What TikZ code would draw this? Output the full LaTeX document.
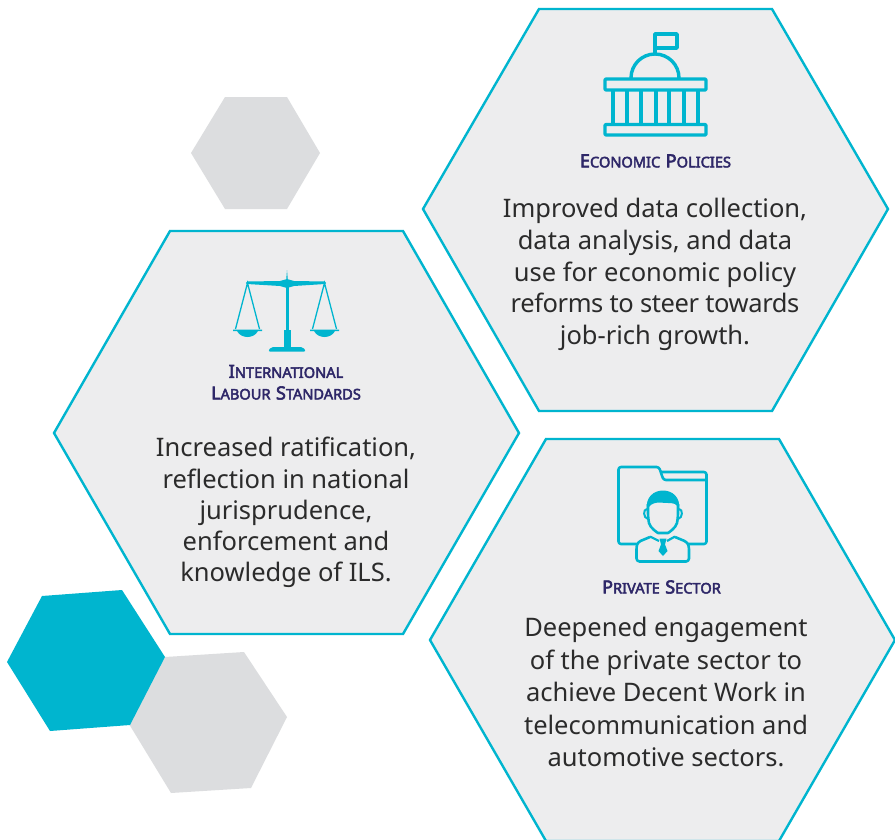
\documentclass[tikz,border=0pt]{standalone}
\usepackage{fontspec}
\setmainfont{Noto Sans}
\newfontfamily\headfont[FakeBold=3.2]{Noto Sans}
\definecolor{teal}{HTML}{00B5CF}
\definecolor{panel}{HTML}{EDEDEE}
\definecolor{deco}{HTML}{DCDDDF}
\definecolor{navy}{HTML}{2E2768}
\definecolor{ink}{HTML}{2B2B2B}
\newcommand{\scap}[2]{{\fontsize{18}{18}\selectfont #1}{\fontsize{14.6}{14.6}\selectfont #2}}
\newcommand{\wgap}{\hspace{5.5pt}}
\tikzset{
  panelhex/.style={draw=teal,fill=panel,line width=2.4pt,line join=miter},
  decohex/.style={fill=deco,draw=none},
  icon/.style={draw=teal,line width=3.4pt,line join=round},
  thin icon/.style={draw=teal,line width=1.3pt},
  body/.style={text=ink,align=center,font=\fontsize{25.5}{31.75}\selectfont,anchor=north,inner sep=0pt},
  head/.style={text=navy,align=center,font=\headfont,anchor=center,inner sep=0pt}
}
\begin{document}
\begin{tikzpicture}[x=1pt,y=-1pt]
\useasboundingbox (0,0) rectangle (895,839);
\clip (0,0) rectangle (895,839);
\fill[white] (0,0) rectangle (895,839);
% decorative hexagons
\path[decohex] (191,153)--(225,97)--(287,97)--(320,153)--(287,209)--(225,209)--cycle;
\path[decohex] (129,724)--(165,657)--(244,652)--(287,717)--(251,788)--(171,793)--cycle;
\path[fill=teal] (7,662)--(42,596)--(122,590)--(165,657)--(130,725)--(50,731)--cycle;
% panels
\path[panelhex] (423,209)--(539,9)--(772,9)--(888,209)--(772,411)--(539,411)--cycle;
\path[panelhex] (54,433)--(170,231)--(403,231)--(519,433)--(403,634)--(170,634)--cycle;
\path[panelhex] (430,640)--(546,439)--(779,439)--(895,640)--(779,841)--(546,841)--cycle;
% building icon
\draw[icon] (655,55)--(655,34)--(677,34)--(677,48)--(655,48);
\draw[icon] (631,78) arc[start angle=180,end angle=360,radius=24];
\draw[icon,rounded corners=1pt] (605,79) rectangle (706,90);
\draw[icon,rounded corners=1pt] (605,124.5) rectangle (706,135);
\foreach \cx in {613,627,641,656,669,684,698}{\draw[icon] (\cx,90)--(\cx,124.5);}
% scales icon
\fill[teal] (287,270)--(288,282)--(286,282)--cycle;
\fill[teal] (247,281.5)--(280,281)--(287,279)--(294,281)--(325,281.5)--(325,284)--(294,286)--(287,288)--(280,286)--(247,284)--cycle;
\fill[teal] (285.5,284) rectangle (288.5,331);
\fill[teal] (283.5,330) rectangle (290.5,349);
\fill[teal,rounded corners=2pt] (268,351.5)--(271,347)--(303,347)--(306,351.5)--cycle;
\fill[teal] (247.5,283) circle[radius=1.7];
\fill[teal] (324.5,283) circle[radius=1.7];
\draw[thin icon] (235.5,329)--(247.5,283)--(259.5,329);
\draw[thin icon] (312.5,329)--(324.5,283)--(336.5,329);
\fill[teal] (233,329.5)--(262,329.5)--(262,331)--(258,331) .. controls (254,339) and (241,339) .. (237,331)--(233,331)--cycle;
\fill[teal] (310,329.5)--(339,329.5)--(339,331)--(335,331) .. controls (331,339) and (318,339) .. (314,331)--(310,331)--cycle;
% person icon
\draw[teal,line width=2.6pt,line join=round,rounded corners=2.5pt]
  (636,544)--(618.5,544)--(618.5,467)--(659,467)--(663.5,480)--(706.5,480);
\draw[teal,line width=2.6pt,line join=round,rounded corners=2.5pt]
  (661,472)--(706.5,472)--(706.5,544)--(689,544);
\draw[teal,line width=2.6pt,line join=round,rounded corners=5pt]
  (648,504)--(648,518) .. controls (650,528) and (658,533) .. (663,533) .. controls (668,533) and (676,528) .. (678,518)--(678,504);
\fill[teal] (647,510) .. controls (643,484) and (683,484) .. (679,510) .. controls (678,503) and (672,503) .. (668,503) .. controls (660,503) and (652,500) .. (647,510)--cycle;
\draw[teal,line width=2pt] (647,509) .. controls (643,509) and (643,518) .. (648,519);
\draw[teal,line width=2pt] (679,509) .. controls (683,509) and (683,518) .. (678,519);
\draw[teal,line width=2.6pt,line join=round,rounded corners=3pt]
  (650,537)--(638,542)--(636.5,546)--(636.5,561.5)--(689,561.5)--(689,546)--(687,542)--(675,537);
\draw[teal,line width=2.2pt,line join=round] (650,536.5)--(659,541);
\draw[teal,line width=2.2pt,line join=round] (675,536.5)--(667,541);
\fill[teal] (659.5,538.5)--(666.5,538.5)--(665,544.5)--(667.5,551)--(663,556)--(658.5,551)--(661,544.5)--cycle;
% headings
\node[head] (econhead) at (655.5,161) {\scap{E}{CONOMIC}\wgap\scap{P}{OLICIES}};
\node[head] (ilshead1) at (286,371.5) {\scap{I}{NTERNATIONAL}};
\node[head] (ilshead2) at (286,393) {\scap{L}{ABOUR}\wgap\scap{S}{TANDARDS}};
\node[head] (privhead) at (661.5,587) {\scap{P}{RIVATE}\wgap\scap{S}{ECTOR}};
% body text
\node[body] (econbody) at (655,198) {Improved data collection,\\data analysis, and data\\use for economic policy\\{\addfontfeature{LetterSpace=-1.6}reforms to steer towards}\\job-rich growth.};
\node[body,font=\fontsize{25.5}{31.3}\selectfont] (ilsbody) at (286,437) {Increased ratification,\\reflection in national\\jurisprudence,\\enforcement and\\knowledge of ILS.};
\node[body,font=\fontsize{25.5}{32.5}\selectfont] (privbody) at (666,617) {Deepened engagement\\of the private sector to\\achieve Decent Work in\\telecommunication and\\automotive sectors.};
\end{tikzpicture}
\end{document}
